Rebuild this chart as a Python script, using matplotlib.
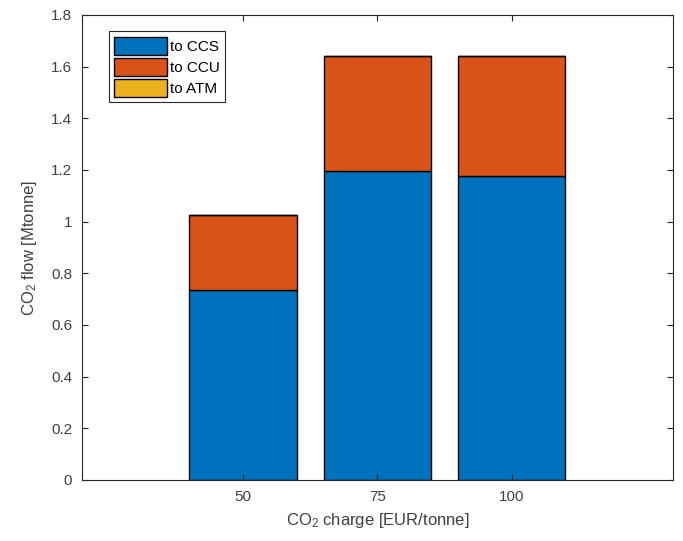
import matplotlib
matplotlib.use("Agg")
import matplotlib.pyplot as plt
import numpy as np

plt.rcParams['font.family'] = ['Liberation Sans', 'DejaVu Sans']
plt.rcParams['mathtext.default'] = 'regular'

# CO2 charge [EUR/tonne] and flows [Mtonne]
charge = [50, 75, 100]
to_ccs = [0.735, 1.195, 1.175]
to_ccu = [0.29, 0.445, 0.465]
to_atm = [0.0, 0.0, 0.0]

labels = ['to CCS', 'to CCU', 'to ATM']
colors = ['#0072BD', '#D95319', '#EDB120']
axcol = '#262626'

fig = plt.figure(figsize=(6.83, 5.41), dpi=100)
ax = fig.add_axes([0.120, 0.1128, 0.865, 0.8595])

x = np.array(charge, dtype=float)
bottom = np.zeros(len(x))
for vals, lab, c in zip([to_ccs, to_ccu, to_atm], labels, colors):
    ax.bar(x, vals, width=20, bottom=bottom, color=c, edgecolor='black',
           linewidth=1.0, label=lab)
    bottom += np.array(vals)

ax.set_xlim(20, 130)
ax.set_ylim(0, 1.8)
ax.set_xticks(charge)
ax.set_yticks(np.arange(0, 1.81, 0.2))
ax.set_yticklabels(['0', '0.2', '0.4', '0.6', '0.8', '1', '1.2', '1.4', '1.6', '1.8'])
ax.tick_params(direction='in', top=True, right=True, length=4, width=0.8,
               labelsize=11, colors=axcol, labelcolor='#404040', pad=7)
for s in ax.spines.values():
    s.set_color(axcol)
    s.set_linewidth(0.8)

ax.set_xlabel('CO$_2$ charge [EUR/tonne]', fontsize=12, color='#404040', labelpad=5)
ax.set_ylabel('CO$_2$ flow [Mtonne]', fontsize=12, color='#404040', labelpad=9)

leg = ax.legend(loc='upper left', bbox_to_anchor=(0.045, 0.965), fontsize=11,
                handlelength=3.5, handleheight=1.45, handletextpad=0.15,
                labelspacing=0.2, borderpad=0.35, borderaxespad=0,
                fancybox=False, framealpha=1, edgecolor=axcol)
leg.get_frame().set_linewidth(0.8)

fig.savefig('out.png', dpi=100)
